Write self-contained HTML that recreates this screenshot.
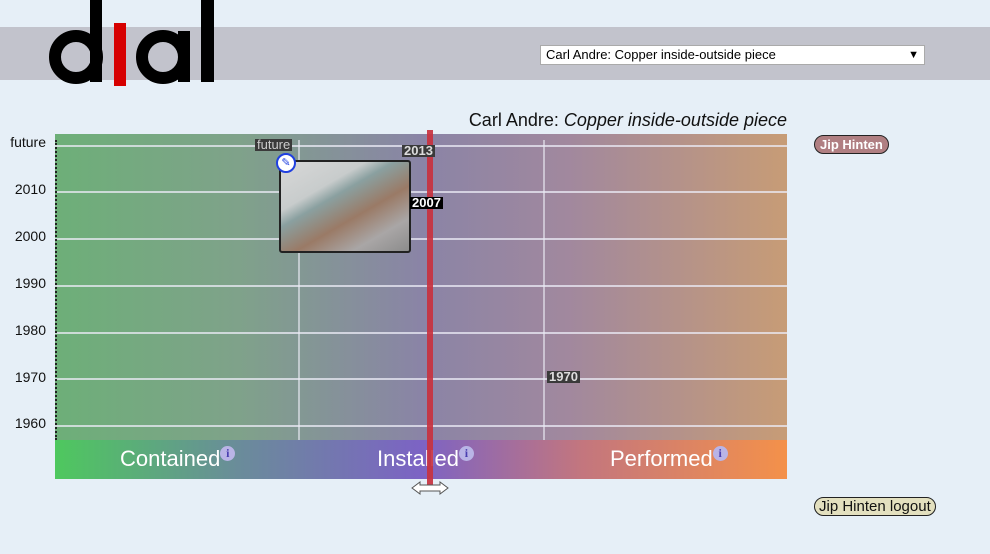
<!DOCTYPE html>
<html><head><meta charset="utf-8"><style>
body{margin:0;width:990px;height:554px;background:#e6eff7;position:relative;overflow:hidden;font-family:"Liberation Sans",sans-serif}
.abs{position:absolute}
.hdr{left:0;top:27px;width:990px;height:53px;background:#c2c3cc}
.sel{left:540px;top:45px;background:#fff;border:1px solid #aaa;font-size:13px;line-height:18px;padding-left:5px;box-sizing:border-box;width:385px;height:20px}
.plot{left:55px;top:134px;width:732px;height:306px;background:linear-gradient(90deg,#6daf78 0%,#7fa28a 25%,#8a84a6 50%,#a1889e 70%,#c79c76 100%)}
.band{left:55px;top:440px;width:732px;height:39px;background:linear-gradient(90deg,#4ec85e 0%,#6a8c9a 25%,#7c63c4 50%,#c3767e 72%,#f4914a 100%)}
.h{position:absolute;left:55px;width:732px;height:2px;background:rgba(235,235,245,.75)}
.v{position:absolute;top:140px;width:2px;height:302px;background:rgba(235,235,245,.6)}
.yl{position:absolute;right:944px;font-size:14px;color:#111}
.tag{position:absolute;background:#3a3a3a;color:#ddd;font-size:13px;font-weight:bold;line-height:12px;padding:0 2px;z-index:3}
.cat{position:absolute;top:446px;color:#fff;font-size:22px;z-index:1}
.i{display:inline-block;width:15px;height:15px;border-radius:50%;background:#b9b4e6;color:#4a3fb0;font-size:12px;line-height:15px;text-align:center;vertical-align:top;font-weight:bold;font-family:"Liberation Serif",serif}
</style></head><body>
<div class="abs hdr"></div>
<svg class="abs" style="left:0;top:0" width="230" height="90">
<circle cx="76" cy="57" r="21" fill="none" stroke="#000" stroke-width="12"/>
<rect x="90" y="0" width="12" height="82" fill="#000"/>
<rect x="114" y="23" width="12" height="63" fill="#d60000"/>
<circle cx="163" cy="57" r="21" fill="none" stroke="#000" stroke-width="12"/>
<rect x="178" y="31" width="12" height="51" fill="#000"/>
<rect x="201" y="0" width="13" height="82" fill="#000"/>
</svg>
<div class="abs sel">Carl Andre: Copper inside-outside piece<span style="position:absolute;right:5px;font-size:11px">▼</span></div>
<div class="abs" style="right:203px;top:110px;font-size:18px;color:#111">Carl Andre: <i>Copper inside-outside piece</i></div>
<div class="abs plot"></div>
<div class="h" style="top:145px"></div><div class="h" style="top:191px"></div><div class="h" style="top:238px"></div><div class="h" style="top:285px"></div><div class="h" style="top:332px"></div><div class="h" style="top:378px"></div><div class="h" style="top:425px"></div>
<div class="v" style="left:298px"></div><div class="v" style="left:543px"></div>
<div class="abs" style="left:55px;top:140px;width:2px;height:300px;border-left:2px dotted #222;box-sizing:border-box"></div>
<div class="yl" style="top:134px">future</div><div class="yl" style="top:181px">2010</div><div class="yl" style="top:228px">2000</div><div class="yl" style="top:275px">1990</div><div class="yl" style="top:322px">1980</div><div class="yl" style="top:369px">1970</div><div class="yl" style="top:415px">1960</div>
<div class="tag" style="left:255px;top:139px;color:#ccc;font-weight:normal">future</div>
<div class="tag" style="left:402px;top:145px">2013</div>
<div class="tag" style="left:410px;top:197px;background:#000;color:#fff">2007</div>
<div class="tag" style="left:547px;top:371px">1970</div>
<div class="abs" style="left:279px;top:160px;width:128px;height:89px;border:2px solid #222;border-radius:3px;background:linear-gradient(150deg,#d8d8d8 0%,#c8cccc 30%,#8aa0a0 40%,#9a7a66 60%,#a9a6a6 80%,#8c8c8c 100%)"></div>
<div class="abs" style="left:276px;top:153px;width:16px;height:16px;border:2px solid #2040e0;border-radius:50%;background:#fff;color:#2040e0;font-size:11px;text-align:center;line-height:16px">✎</div>
<div class="abs band"></div>
<div class="cat" style="left:120px">Contained<span class="i">i</span></div>
<div class="cat" style="left:377px">Installed<span class="i">i</span></div>
<div class="cat" style="left:610px">Performed<span class="i">i</span></div>
<div class="abs" style="left:427px;top:130px;width:6px;height:357px;background:#c8323f;opacity:.92;z-index:2"></div>
<svg class="abs" style="left:410px;top:480px;z-index:3" width="42" height="16"><path d="M2 8 L10 2 V5 H30 V2 L38 8 L30 14 V11 H10 V14 Z" fill="#fff" stroke="#555"/></svg>
<div class="abs" style="left:814px;top:135px;background:#b07f82;color:#fff;font-weight:bold;font-size:13px;border:1px solid #222;border-radius:10px;padding:1px 5px">Jip Hinten</div>
<div class="abs" style="left:814px;top:497px;background:#e3e0bf;color:#111;font-size:15px;border:1px solid #222;border-radius:10px;padding:0 4px">Jip Hinten logout</div>
</body></html>
